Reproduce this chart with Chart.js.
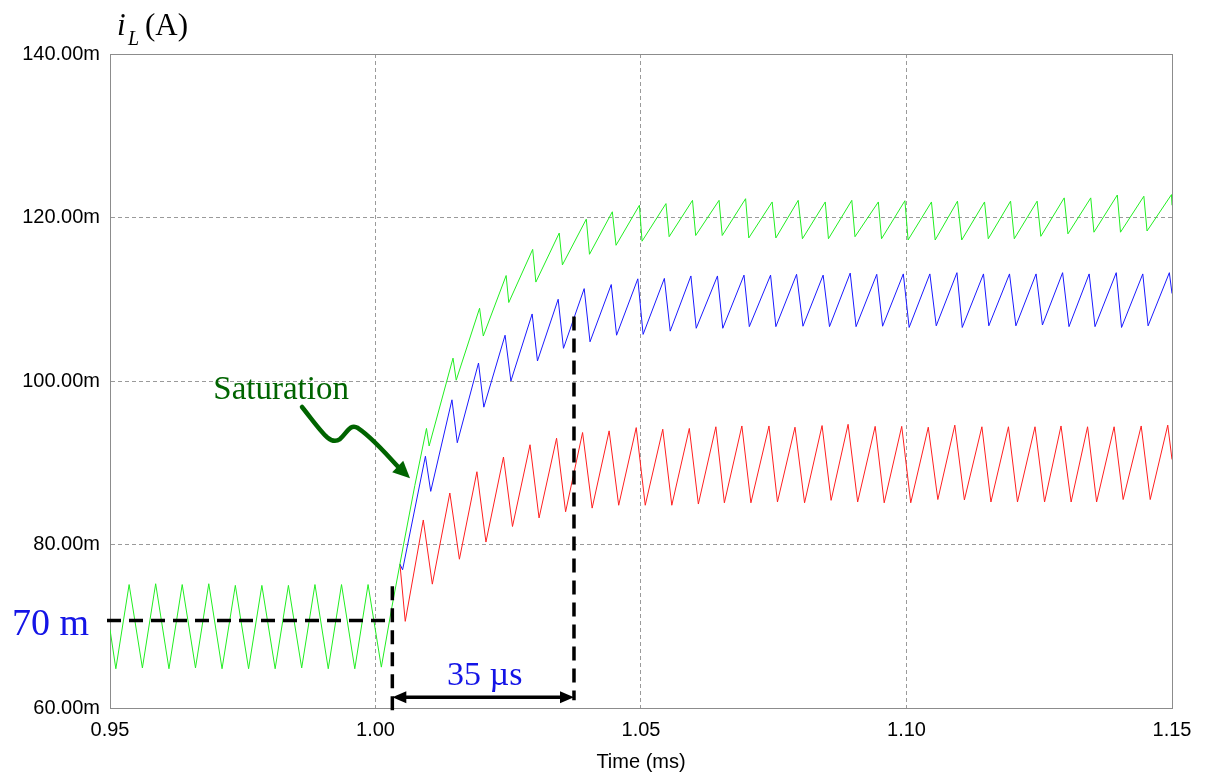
<!DOCTYPE html>
<html>
<head>
<meta charset="utf-8">
<script src="https://cdn.jsdelivr.net/npm/chart.js@4"></script>
<style>
  html, body { margin: 0; padding: 0; background: #fff; }
  #wrap { width: 1205px; height: 778px; position: relative; }
</style>
</head>
<body>
<div id="wrap"><canvas id="ilChart"></canvas></div>
<script>
// inductor current, time in ms, current in mA
const greenT = [0.95, 0.9511, 0.9536, 0.9561, 0.9586, 0.9611, 0.9636, 0.9661, 0.9686, 0.9711, 0.9736,
  0.9761, 0.9786, 0.9811, 0.9836, 0.9861, 0.9886, 0.9911, 0.9936, 0.9961, 0.9986, 1.0011,
  1.0031, 1.0046, 1.0052, 1.0074, 1.0096, 1.0101, 1.0146, 1.0152, 1.0196, 1.0203, 1.0246, 1.0251,
  1.0296, 1.0302, 1.0346, 1.0352, 1.0397, 1.0403, 1.0446, 1.0453, 1.0497, 1.0502, 1.0547, 1.0553,
  1.0597, 1.0603, 1.0647, 1.0653, 1.0697, 1.0703, 1.0747, 1.0754, 1.0796, 1.0804, 1.0847, 1.0853,
  1.0897, 1.0903, 1.0947, 1.0953, 1.0997, 1.1003, 1.1047, 1.1054, 1.1096, 1.1104, 1.1147, 1.1154,
  1.1196, 1.1203, 1.1246, 1.1253, 1.1297, 1.1304, 1.1347, 1.1353, 1.1397, 1.1403, 1.1447, 1.1453,
  1.1499, 1.15];
const greenI = [69.6, 64.8, 75.1, 64.9, 75.2, 64.8, 75.1, 64.9, 75.2, 64.8, 75.0,
  64.8, 75.0, 64.8, 75.0, 64.9, 75.1, 64.8, 75.1, 64.8, 75.1, 65.0,
  72.4, 77.6, 79.7, 87.2, 94.2, 92.05, 102.8, 100.1, 108.9, 105.5, 112.9, 109.6,
  116.1, 112.1, 118.1, 114.2, 119.8, 115.5, 120.7, 116.6, 121.5, 117.1, 121.7, 117.65,
  122.1, 117.8, 122.1, 117.8, 122.3, 117.5, 121.9, 117.5, 122.1, 117.4, 121.9, 117.4,
  122.1, 117.65, 121.9, 117.4, 122.05, 117.25, 121.9, 117.25, 122.0, 117.25, 121.9, 117.4,
  122.0, 117.4, 122.0, 117.7, 122.4, 118.0, 122.4, 118.2, 122.75, 118.2, 122.6, 118.35,
  122.8, 121.5];

const blueT = [1.0046, 1.0051, 1.0094, 1.0104, 1.0144, 1.0154, 1.0194, 1.0204, 1.0244, 1.0255,
  1.0295, 1.0305, 1.0344, 1.0354, 1.0393, 1.0404, 1.0444, 1.0454, 1.0494, 1.0504, 1.0544, 1.0555,
  1.0594, 1.0604, 1.0644, 1.0654, 1.0694, 1.0704, 1.0744, 1.0754, 1.0793, 1.0805, 1.0843, 1.0855,
  1.0894, 1.0905, 1.0944, 1.0955, 1.0994, 1.1005, 1.1044, 1.1056, 1.1095, 1.1105, 1.1145, 1.1155,
  1.1194, 1.1206, 1.1244, 1.1256, 1.1294, 1.1306, 1.1344, 1.1355, 1.1395, 1.1405, 1.1445, 1.1455,
  1.1495, 1.15];
const blueI = [77.6, 76.9, 90.8, 86.5, 97.7, 92.45, 102.2, 96.8, 105.6, 100.0,
  108.2, 102.45, 110.0, 104.0, 111.3, 104.8, 111.8, 105.6, 112.5, 105.7, 112.55, 106.1,
  112.85, 106.45, 112.85, 106.45, 112.95, 106.65, 112.95, 106.65, 113.05, 106.7, 112.95, 106.65,
  113.2, 106.65, 113.05, 106.7, 113.1, 106.55, 113.1, 106.75, 113.25, 106.55, 113.1, 106.75,
  113.1, 106.75, 113.1, 106.85, 113.25, 106.65, 113.1, 106.65, 113.25, 106.55, 113.1, 106.75,
  113.25, 110.7];

const redT = [1.0046, 1.0056, 1.0090, 1.0107, 1.0140, 1.0158, 1.0191, 1.0208, 1.0241, 1.0258,
  1.0291, 1.0308, 1.0341, 1.0358, 1.0390, 1.0408, 1.0440, 1.0458, 1.0491, 1.0508, 1.0541, 1.0558,
  1.0591, 1.0608, 1.0641, 1.0657, 1.0690, 1.0707, 1.0741, 1.0757, 1.0790, 1.0808, 1.0841, 1.0858,
  1.0890, 1.0908, 1.0941, 1.0958, 1.0991, 1.1008, 1.1041, 1.1059, 1.1091, 1.1109, 1.1142, 1.1159,
  1.1192, 1.1209, 1.1242, 1.1260, 1.1291, 1.1310, 1.1341, 1.1358, 1.1391, 1.1408, 1.1442, 1.1459,
  1.1492, 1.15];
const redI = [77.6, 70.6, 83.0, 75.15, 86.3, 78.2, 88.9, 80.3, 90.7, 82.2,
  92.2, 83.25, 93.0, 84.0, 93.7, 84.45, 93.9, 84.8, 94.3, 84.8, 94.1, 84.8,
  94.2, 84.95, 94.4, 85.1, 94.5, 85.1, 94.5, 85.2, 94.35, 85.1, 94.55, 85.4,
  94.7, 85.2, 94.45, 85.1, 94.45, 85.1, 94.35, 85.5, 94.6, 85.45, 94.4, 85.2,
  94.4, 85.2, 94.4, 85.2, 94.5, 85.2, 94.4, 85.2, 94.4, 85.5, 94.5, 85.5,
  94.6, 90.4];

// annotation values
const level70 = 70.7;          // dashed "70 m" level
const tStart = 1.00317;        // start of the 35 us interval
const tEnd = 1.03738;          // end of the 35 us interval
const tEndTop = 107.9;         // top of the second marker line
const arrowLevel = 61.3;
// saturation arrow path (t, mA)
const satPath = [[0.98616, 96.82], [0.98992, 93.76], [0.99143, 92.05], [0.99331, 92.9],
  [0.99463, 93.64], [0.9952, 94.86], [0.9967, 94.25],
  [0.99896, 93.27], [1.00179, 91.3], [1.00424, 89.5]];
const satTip = [1.0065, 88.1];

const serif = "'Times New Roman', 'Liberation Serif', serif";
const sans = "Arial, 'Liberation Sans', sans-serif";

const toXY = (t, v) => t.map((x, i) => ({x: x, y: v[i]}));

const plotBox = {
  id: 'plotBox',
  beforeDatasetsDraw(chart) {
    const {ctx, chartArea: a} = chart;
    ctx.save();
    ctx.strokeStyle = '#8c8c8c';
    ctx.lineWidth = 1;
    ctx.setLineDash([]);
    ctx.strokeRect(a.left + 0.5, a.top + 0.5, a.right - a.left, a.bottom - a.top);
    ctx.restore();
  }
};

const annotations = {
  id: 'annotations',
  afterDraw(chart) {
    const ctx = chart.ctx;
    const a = chart.chartArea;
    const xs = chart.scales.x, ys = chart.scales.y;
    const px = t => xs.getPixelForValue(t);
    const py = v => ys.getPixelForValue(v);

    ctx.save();
    // dashed marker lines
    ctx.strokeStyle = '#000';
    ctx.lineWidth = 3.5;
    ctx.setLineDash([14, 8]);
    ctx.beginPath();
    ctx.moveTo(a.left - 3, py(level70));
    ctx.lineTo(px(tStart), py(level70));
    ctx.stroke();
    ctx.beginPath();
    ctx.moveTo(px(tStart), py(74.9));
    ctx.lineTo(px(tStart), a.bottom + 6);
    ctx.stroke();
    ctx.beginPath();
    ctx.moveTo(px(tEnd), py(tEndTop));
    ctx.lineTo(px(tEnd), py(arrowLevel) + 3);
    ctx.stroke();

    // double arrow
    ctx.setLineDash([]);
    const ay = py(arrowLevel), x1 = px(tStart), x2 = px(tEnd);
    ctx.lineWidth = 3.5;
    ctx.beginPath();
    ctx.moveTo(x1 + 10, ay);
    ctx.lineTo(x2 - 10, ay);
    ctx.stroke();
    ctx.fillStyle = '#000';
    ctx.beginPath();
    ctx.moveTo(x1, ay); ctx.lineTo(x1 + 14, ay - 6); ctx.lineTo(x1 + 14, ay + 6); ctx.closePath();
    ctx.fill();
    ctx.beginPath();
    ctx.moveTo(x2, ay); ctx.lineTo(x2 - 14, ay - 6); ctx.lineTo(x2 - 14, ay + 6); ctx.closePath();
    ctx.fill();

    // texts
    ctx.fillStyle = '#1414e6';
    ctx.textBaseline = 'alphabetic';
    ctx.font = '34px ' + serif;
    ctx.textAlign = 'center';
    ctx.fillText('35 \u00b5s', px(1.02058), py(62.8));
    ctx.font = '38px ' + serif;
    ctx.textAlign = 'left';
    ctx.fillText('70 m', px(0.93154), py(68.93));

    ctx.fillStyle = '#006400';
    ctx.font = '33px ' + serif;
    ctx.fillText('Saturation', px(0.96945), py(97.76));

    // saturation arrow
    ctx.strokeStyle = '#006400';
    ctx.lineWidth = 4.5;
    ctx.lineCap = 'round';
    ctx.beginPath();
    const p = satPath.map(q => [px(q[0]), py(q[1])]);
    ctx.moveTo(p[0][0], p[0][1]);
    for (let i = 1; i + 2 < p.length; i += 3) {
      ctx.bezierCurveTo(p[i][0], p[i][1], p[i + 1][0], p[i + 1][1], p[i + 2][0], p[i + 2][1]);
    }
    ctx.stroke();
    const tip = [px(satTip[0]), py(satTip[1])];
    const end = p[p.length - 1];
    const ang = Math.atan2(tip[1] - end[1], tip[0] - end[0]);
    const hl = 17, hw = 8;
    const bx = tip[0] - hl * Math.cos(ang), by = tip[1] - hl * Math.sin(ang);
    ctx.fillStyle = '#006400';
    ctx.beginPath();
    ctx.moveTo(tip[0], tip[1]);
    ctx.lineTo(bx + hw * Math.sin(ang), by - hw * Math.cos(ang));
    ctx.lineTo(bx - hw * Math.sin(ang), by + hw * Math.cos(ang));
    ctx.closePath();
    ctx.fill();

    // axis label i_L (A)
    ctx.fillStyle = '#000';
    ctx.textAlign = 'left';
    ctx.font = 'italic 31px ' + serif;
    ctx.fillText('i', a.left + 7, a.top - 19);
    ctx.font = 'italic 20px ' + serif;
    ctx.fillText('L', a.left + 18, a.top - 9);
    ctx.font = '31px ' + serif;
    ctx.fillText('(A)', a.left + 35, a.top - 19);
    ctx.restore();
  }
};

const ctx = document.getElementById('ilChart').getContext('2d');
const ilChart = new Chart(ctx, {
  type: 'line',
  data: {
    datasets: [{
      label: 'green',
      data: toXY(greenT, greenI),
      borderColor: '#22ee22',
      borderWidth: 1,
      pointRadius: 0,
      tension: 0
    }, {
      label: 'blue',
      data: toXY(blueT, blueI),
      borderColor: '#1a1aff',
      borderWidth: 1,
      pointRadius: 0,
      tension: 0
    }, {
      label: 'red',
      data: toXY(redT, redI),
      borderColor: '#ff2020',
      borderWidth: 1,
      pointRadius: 0,
      tension: 0
    }]
  },
  options: {
    responsive: true,
    maintainAspectRatio: false,
    animation: false,
    devicePixelRatio: 1,
    layout: { padding: { top: 54, right: 33, left: 0, bottom: 0 } },
    plugins: { legend: { display: false }, tooltip: { enabled: false } },
    scales: {
      x: {
        type: 'linear',
        min: 0.95,
        max: 1.15,
        afterFit: s => { s.height = 70; },
        ticks: {
          stepSize: 0.05,
          padding: 10,
          color: '#000',
          font: { family: sans, size: 20 },
          callback: v => v.toFixed(2)
        },
        grid: { color: '#9a9a9a', lineWidth: 1, drawTicks: false },
        border: { color: '#8c8c8c', width: 1, dash: [4, 3] },
        title: {
          display: true,
          text: 'Time (ms)',
          color: '#000',
          font: { family: sans, size: 20 },
          padding: { top: 0, bottom: 4 }
        }
      },
      y: {
        min: 60,
        max: 140,
        afterFit: s => { s.width = 110; },
        ticks: {
          stepSize: 20,
          padding: 10,
          color: '#000',
          font: { family: sans, size: 20 },
          callback: v => v.toFixed(2) + 'm'
        },
        grid: { color: '#9a9a9a', lineWidth: 1, drawTicks: false },
        border: { color: '#8c8c8c', width: 1, dash: [4, 3] }
      }
    }
  },
  plugins: [plotBox, annotations]
});
</script>
</body>
</html>
